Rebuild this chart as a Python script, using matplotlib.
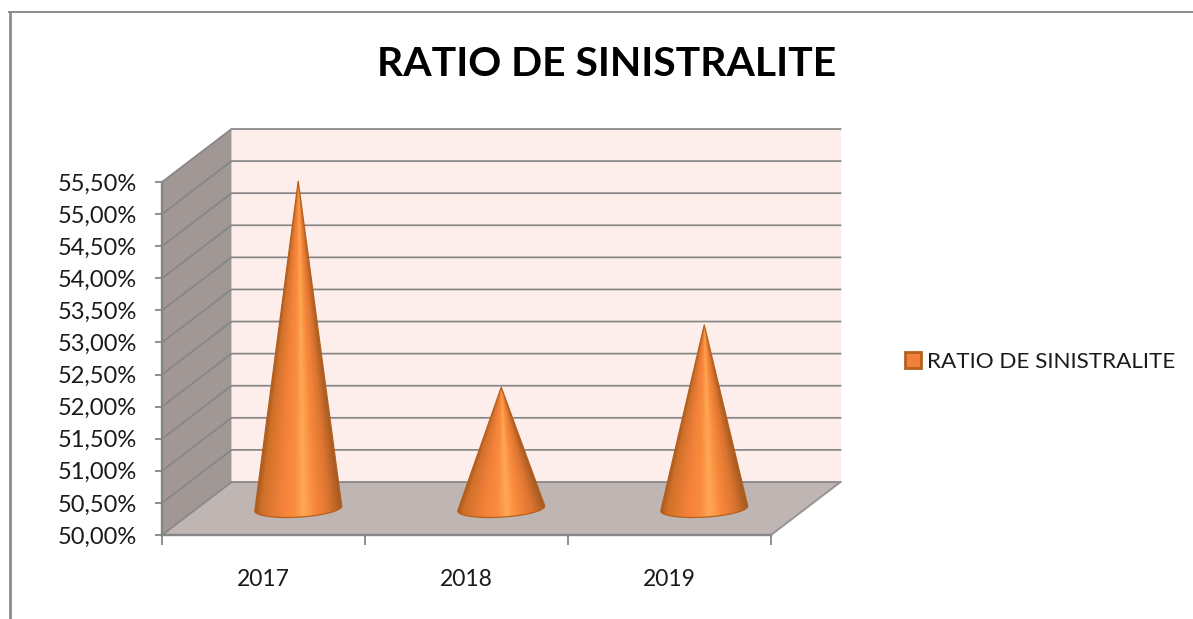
#!/usr/bin/env python
"""Ratio de sinistralite, cone chart drawn with a fake 3D wall and floor."""

import numpy as np
import matplotlib

matplotlib.use("Agg")
import matplotlib.pyplot as plt
from matplotlib.colors import LinearSegmentedColormap
from matplotlib.lines import Line2D
from matplotlib.patches import Patch, Polygon

plt.rcParams["font.family"] = ["Lato", "DejaVu Sans"]

TITLE = "RATIO DE SINISTRALITE"
years = ["2017", "2018", "2019"]
ratios = [55.10, 51.89, 52.86]
y_ticks = [50.0, 50.5, 51.0, 51.5, 52.0, 52.5, 53.0, 53.5, 54.0, 54.5, 55.0, 55.5]
y_labels = ["50,00%", "50,50%", "51,00%", "51,50%", "52,00%", "52,50%",
            "53,00%", "53,50%", "54,00%", "54,50%", "55,00%", "55,50%"]

W, H = 1193, 619
LEFT, RIGHT, TOP, BOTTOM = 162, 771, 182, 535

GRID = "#868686"
# depth of the box expressed in axis units
DX = 69.5 / ((RIGHT - LEFT) / 3)
DY = 53 / ((BOTTOM - TOP) / 5.5)

cone_cmap = LinearSegmentedColormap.from_list(
    "cone",
    [(0.0, "#a85a20"), (0.07, "#cf7029"), (0.3, "#f3813a"), (0.45, "#f98c3e"),
     (0.56, "#ffa855"), (0.68, "#f98a3c"), (0.85, "#dd7530"), (1.0, "#a55a22")],
)


def sheared(x, y, depth):
    return x + depth * DX, y + depth * DY


def draw_cone(ax, center, value):
    apex_x, apex_y = sheared(center, value, 0.5)
    base_x, base_y = sheared(center, y_ticks[0], 0.5)
    t = np.linspace(0, 2 * np.pi, 361)[:-1]
    radius = 0.206
    depth = 0.17
    ring_x = base_x + radius * np.cos(t) + depth * DX * np.sin(t)
    ring_y = base_y + depth * DY * np.sin(t)

    # silhouette: apex plus the front part of the base ring
    px_x = (ring_x - apex_x) * (RIGHT - LEFT) / 3
    px_y = (apex_y - ring_y) * (BOTTOM - TOP) / 5.5
    angles = np.arctan2(px_x, px_y)
    right, left = int(np.argmax(angles)), int(np.argmin(angles))
    idx = np.arange(right, left + 361) % 360
    idx = idx[: ((left - right) % 360) + 1]
    # keep the arc passing through the front of the ring
    if not np.any(ring_y[idx] == ring_y.min()):
        idx = (np.arange(left, right + 361) % 360)[: ((right - left) % 360) + 1]
    outline = np.vstack([[apex_x, apex_y], np.column_stack([ring_x[idx], ring_y[idx]])])
    shape = Polygon(outline, closed=True, facecolor="none", edgecolor="#b5601f",
                    lw=0.9, zorder=6, clip_on=False, joinstyle="round")
    ax.add_patch(shape)

    half_width = np.ptp(ring_x) / 2
    xs = np.linspace(base_x - half_width - 0.01, base_x + half_width + 0.01, 220)
    ys = np.linspace(ring_y.min() - 0.01, apex_y + 0.01, 900)
    gx, gy = np.meshgrid(xs, ys)
    frac = np.clip((apex_y - gy) / (apex_y - base_y), 0.002, 1)
    u = (gx - apex_x) / (frac * half_width)
    image = ax.imshow(cone_cmap(np.clip((u + 1) / 2, 0, 1)), origin="lower",
                      extent=(xs[0], xs[-1], ys[0], ys[-1]), aspect="auto",
                      interpolation="bilinear", zorder=5, clip_on=True)
    image.set_clip_path(shape)


def main():
    fig = plt.figure(figsize=(W / 100, H / 100), dpi=100)
    ax = fig.add_axes([LEFT / W, 1 - BOTTOM / H, (RIGHT - LEFT) / W, (BOTTOM - TOP) / H])
    ax.patch.set_visible(False)
    n = len(years)
    y0, y1 = y_ticks[0], y_ticks[-1]

    # box: back wall, side wall, floor
    ax.add_patch(Polygon([(DX, y0 + DY), (n + DX, y0 + DY), (n + DX, y1 + DY), (DX, y1 + DY)],
                         facecolor="#feeeeb", edgecolor="none", zorder=1, clip_on=False))
    ax.add_patch(Polygon([(0, y0), (DX, y0 + DY), (DX, y1 + DY), (0, y1)],
                         facecolor="#a19896", edgecolor="none", zorder=1, clip_on=False))
    ax.add_patch(Polygon([(0, y0), (n, y0), (n + DX, y0 + DY), (DX, y0 + DY)],
                         facecolor="#bfb5b2", edgecolor="none", zorder=1, clip_on=False))

    for tick in y_ticks:
        ax.plot([0, DX, n + DX], [tick, tick + DY, tick + DY], color=GRID, lw=1.25,
                zorder=2, clip_on=False, solid_joinstyle="miter")
    ax.plot([0, DX], [y0, y0 + DY], color="#928a88", lw=1.1, zorder=2, clip_on=False)
    ax.plot([n, n + DX], [y0, y0 + DY], color="#959595", lw=1.4, zorder=2, clip_on=False)

    for i, value in enumerate(ratios):
        draw_cone(ax, i + 0.5, value)

    ax.set_xlim(0, n)
    ax.set_ylim(y0, y1)
    for side in ("top", "right"):
        ax.spines[side].set_visible(False)
    for side in ("left", "bottom"):
        ax.spines[side].set_color(GRID)
        ax.spines[side].set_linewidth(1.7)
        ax.spines[side].set_zorder(7)

    ax.set_yticks(y_ticks, y_labels)
    ax.tick_params(axis="y", length=5, width=1.3, color=GRID, labelsize=17, pad=13,
                   labelcolor="#1a1a1a")
    ax.set_xticks(np.arange(n + 1), [""] * (n + 1))
    ax.tick_params(axis="x", which="major", length=7, width=1.3, color=GRID)
    ax.set_xticks(np.arange(n) + 0.5, years, minor=True)
    ax.tick_params(axis="x", which="minor", length=0, labelsize=16.5, pad=24.5,
                   labelcolor="#1a1a1a")

    fig.text(606.5 / W, 1 - 64 / H, TITLE, fontsize=29.4, fontweight="bold", color="black",
             ha="center", va="center")

    handle = Patch(facecolor="#f2803a", edgecolor="#b5601f", linewidth=2)
    fig.legend([handle], [TITLE], loc="center left", bbox_to_anchor=(905 / W, 1 - 361.5 / H),
               frameon=False, fontsize=16.2, handlelength=0.72, handleheight=0.72,
               handletextpad=0.25, borderpad=0, borderaxespad=0, labelcolor="#1a1a1a")

    # chart area border, only top and left are inside the crop
    fig.add_artist(Line2D([9.5 / W, 9.5 / W], [0, 1 - 12 / H], color="#8c8c8c", lw=2.0))
    fig.add_artist(Line2D([8.5 / W, 1], [1 - 12 / H, 1 - 12 / H], color="#8c8c8c", lw=1.4))

    fig.savefig("out.png", dpi=100)


if __name__ == "__main__":
    main()
